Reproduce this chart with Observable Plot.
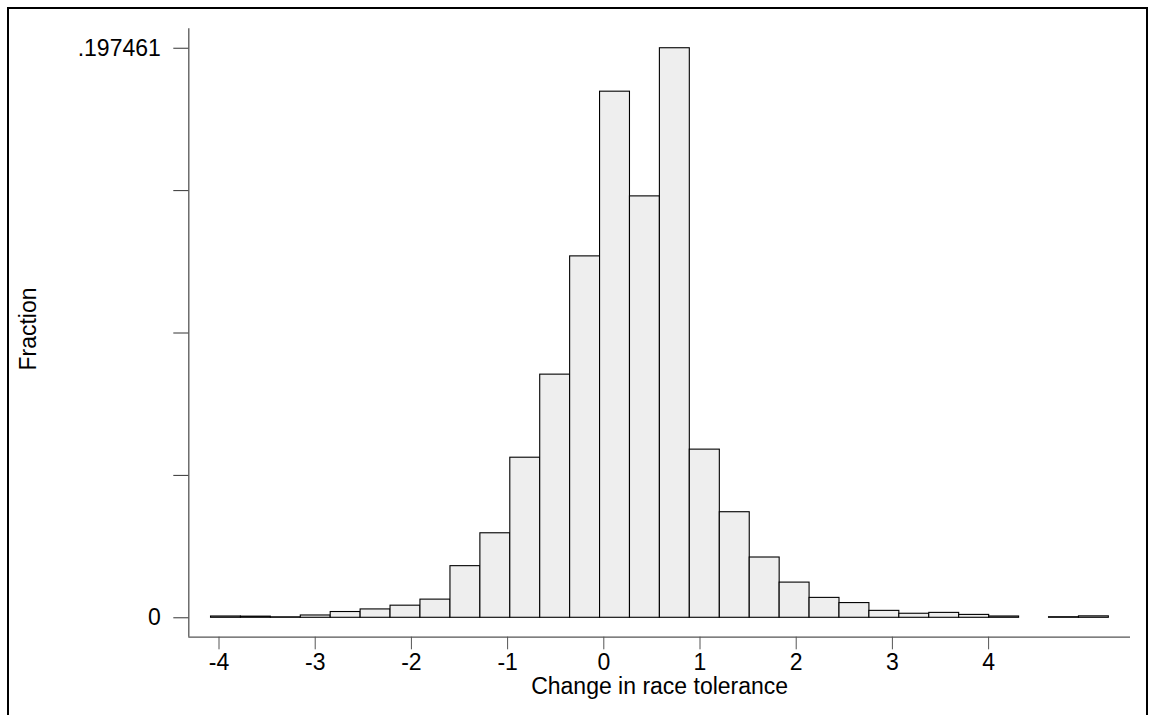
<!DOCTYPE html>
<html>
<head>
<meta charset="utf-8">
<script src="https://cdn.jsdelivr.net/npm/d3@7"></script>
<script src="https://cdn.jsdelivr.net/npm/@observablehq/plot@0.6"></script>
<style>
  html, body { margin: 0; padding: 0; background: #fff; overflow: hidden; }
  #wrap { position: relative; width: 1155px; height: 715px; }
  #border { position: absolute; left: 7px; top: 7px; width: 1141px; height: 800px;
            border: 2px solid #000; pointer-events: none; box-sizing: border-box; }
</style>
</head>
<body>
<div id="wrap"><div id="border"></div></div>
<script>
// Histogram bin edges (change in race tolerance)
const binEdges = [-4.083, -3.772, -3.461, -3.150, -2.839, -2.528, -2.217, -1.906, -1.594, -1.283,
                  -0.972, -0.661, -0.350, -0.039, 0.272, 0.583, 0.894, 1.206, 1.517, 1.828,
                  2.139, 2.450, 2.761, 3.072, 3.383, 3.694, 4.006, 4.317, 4.628, 4.939, 5.250];
// Fraction in each bin
const fractions = [0.00045, 0.0004, 0.00017, 0.0008, 0.002, 0.0029, 0.0042, 0.0063, 0.0179, 0.0293,
                   0.0555, 0.0843, 0.1253, 0.1824, 0.1461, 0.197461, 0.0583, 0.0366, 0.0209, 0.0122,
                   0.0069, 0.0051, 0.0024, 0.0014, 0.0017, 0.0010, 0.00045, 0, 0.0002, 0.0005];
// Ticks
const xTicks = [-4, -3, -2, -1, 0, 1, 2, 3, 4];
const xTickLabels = ["-4", "-3", "-2", "-1", "0", "1", "2", "3", "4"];
const yTicks = [0, 0.049365, 0.09873, 0.148096, 0.197461];
const yTickLabels = ["0", "", "", "", ".197461"];
const xTitle = "Change in race tolerance";
const yTitle = "Fraction";

const bins = fractions.map((f, i) => ({x1: binEdges[i], x2: binEdges[i + 1], y: f}))
                      .filter(d => d.y > 0);

const xDomain = [-4.314, 5.475];
const yDomain = [-0.00673, 0.2042];
const font = "'Liberation Sans', Arial, Helvetica, sans-serif";

const chart = Plot.plot({
  width: 1155,
  height: 715,
  marginLeft: 188.3,
  marginRight: 25,
  marginTop: 28.3,
  marginBottom: 78.3,
  style: {fontFamily: font, fontSize: "23px", background: "transparent", color: "#000"},
  x: {domain: xDomain},
  y: {domain: yDomain},
  marks: [
    Plot.rectY(bins, {x1: "x1", x2: "x2", y1: 0, y2: "y", fill: "#eeeeee", stroke: "#000", strokeWidth: 1.1}),
    Plot.ruleY([yDomain[0]], {stroke: "#555", strokeWidth: 1.3}),
    Plot.ruleX([xDomain[0]], {stroke: "#555", strokeWidth: 1.3}),
    Plot.axisX({ticks: xTicks, tickSize: 12.6, tickPadding: 4, fontSize: 23, label: null,
                stroke: "#555", tickFormat: d => xTickLabels[xTicks.indexOf(d)]}),
    Plot.axisY({ticks: yTicks, tickSize: 15, tickPadding: 13, fontSize: 23, label: null,
                stroke: "#333", tickFormat: d => yTickLabels[yTicks.indexOf(d)]}),
    Plot.text([xTitle], {text: d => d, frameAnchor: "bottom", lineAnchor: "middle", textAnchor: "middle",
                         dy: 49.2, fontSize: 23, fill: "#000"}),
    Plot.text([yTitle], {text: d => d, frameAnchor: "left", lineAnchor: "middle", textAnchor: "middle",
                         rotate: -90, dx: -160.5, dy: -4, fontSize: 23, fill: "#000"})
  ]
});
document.getElementById("wrap").prepend(chart);
</script>
</body>
</html>
